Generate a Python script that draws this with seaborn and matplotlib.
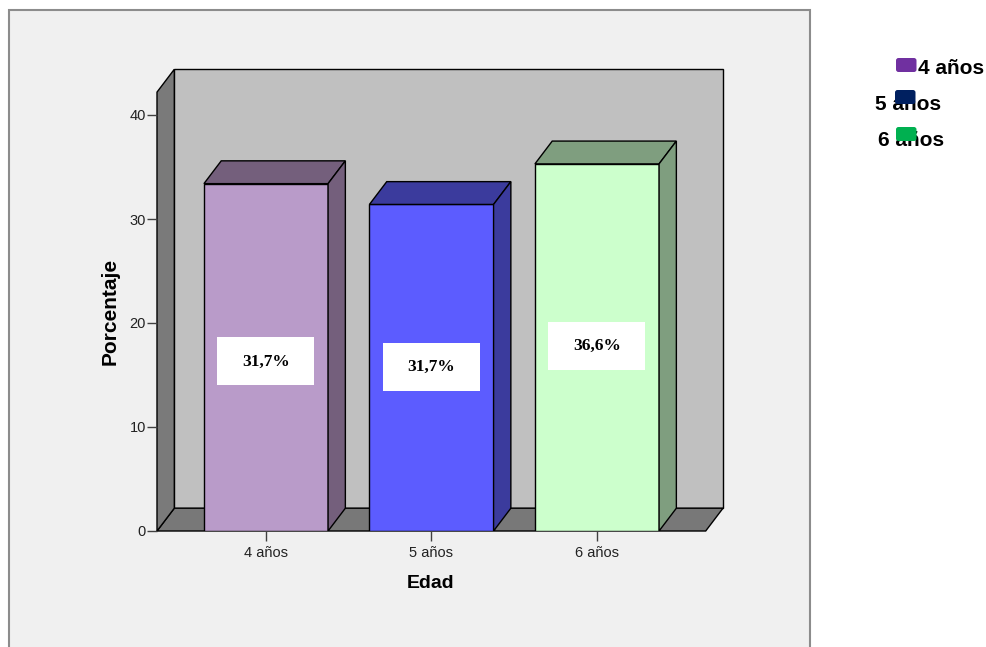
import matplotlib
matplotlib.use('Agg')
import matplotlib.pyplot as plt
from matplotlib.patches import Polygon, Rectangle, FancyBboxPatch
from matplotlib.transforms import IdentityTransform
import seaborn as sns

# ---------------- data ----------------
categorias = ['4 años', '5 años', '6 años']
porcentaje = [33.4, 31.4, 35.3]
etiquetas = ['31,7%', '31,7%', '36,6%']
yticks = [0, 10, 20, 30, 40]

# ---------------- style ----------------
colores_frente = ['#b99bc9', '#5c5cff', '#ccffcc']
colores_lado = ['#745f7c', '#3b3b9d', '#7f9e7f']
colores_leyenda = ['#7030a0', '#002060', '#00b050']
etiqueta_y = [16.3, 15.8, 17.8]   # label box centres (layout)

W, H = 987, 647
fig = plt.figure(figsize=(W / 100, H / 100), dpi=100, facecolor='white')

# outer grey frame
fig.patches.append(Rectangle((9 / W, -0.02), (810 - 9) / W, 1.02 - 10 / H,
                             transform=fig.transFigure, facecolor='#f0f0f0',
                             edgecolor='#8c8c8c', linewidth=1.5, zorder=-10))

# axes geometry (pixels)
PX_CAT = 165.5          # px per category
PX_VAL = 10.4           # px per percentage unit
X_ZERO_PX = 266
left_px, right_px, top_px, bot_px = 157, 723, 69.3, 531
ax = fig.add_axes([left_px / W, (H - bot_px) / H,
                   (right_px - left_px) / W, (bot_px - top_px) / H])
ax.patch.set_visible(False)
ax.set_zorder(1)

X0 = -(X_ZERO_PX - left_px) / PX_CAT
X1 = (right_px - X_ZERO_PX) / PX_CAT
DX = 17.3 / PX_CAT
DY = 22.8 / PX_VAL
WALL_TOP = 42.2
XF = X1 - DX
BAR_W = 0.75

# walls
ax.add_patch(Rectangle((X0 + DX, DY), XF - X0, WALL_TOP, facecolor='#c0c0c0',
                       edgecolor='black', linewidth=1, zorder=0.5, clip_on=False))
ax.add_patch(Polygon([(X0, 0), (XF, 0), (XF + DX, DY), (X0 + DX, DY)],
                     closed=True, facecolor='#787878', edgecolor='black',
                     linewidth=1, zorder=0.6, clip_on=False))
ax.add_patch(Polygon([(X0, 0), (X0, WALL_TOP), (X0 + DX, WALL_TOP + DY), (X0 + DX, DY)],
                     closed=True, facecolor='#7a7a7a', edgecolor='black',
                     linewidth=1, zorder=0.6, clip_on=False))

# front faces
sns.barplot(x=categorias, y=porcentaje, hue=categorias, palette=colores_frente,
            saturation=1, width=BAR_W, edgecolor='black', linewidth=1,
            legend=False, ax=ax)
for cont in ax.containers:
    for p in cont:
        p.set_zorder(3)

# 3D tops and sides
for i, (h, cl) in enumerate(zip(porcentaje, colores_lado)):
    l, r = i - BAR_W / 2, i + BAR_W / 2
    ax.add_patch(Polygon([(l, h), (r, h), (r + DX, h + DY), (l + DX, h + DY)],
                         closed=True, facecolor=cl, edgecolor='black',
                         linewidth=1, zorder=3))
    ax.add_patch(Polygon([(r, 0), (r + DX, DY), (r + DX, h + DY), (r, h)],
                         closed=True, facecolor=cl, edgecolor='black',
                         linewidth=1, zorder=3))

# value label boxes
BOX_W = 97 / PX_CAT
BOX_H = 48 / PX_VAL
for i, (t, yc) in enumerate(zip(etiquetas, etiqueta_y)):
    ax.add_patch(Rectangle((i - BOX_W / 2, yc - BOX_H / 2), BOX_W, BOX_H,
                           facecolor='white', edgecolor='none', zorder=5))
    ax.text(i, yc, t, ha='center', va='center', fontsize=12.5, fontweight='bold',
            family='Liberation Serif', color='black', zorder=6)

ax.set_xlim(X0, X1)
ax.set_ylim(0, (bot_px - top_px) / PX_VAL)
ax.set_yticks(yticks)
ax.set_xticks(range(len(categorias)))
ax.set_xticklabels(categorias)
for s in ax.spines.values():
    s.set_visible(False)
ax.tick_params(axis='y', length=7, width=1, color='#404040', pad=1,
               labelsize=10.5, labelcolor='#222222')
ax.tick_params(axis='x', length=7, width=1, color='#404040', pad=4,
               labelsize=10.5, labelcolor='#222222')
for lab in ax.get_xticklabels() + ax.get_yticklabels():
    lab.set_family('Liberation Sans')

ax.set_xlabel('Edad', fontsize=14, fontweight='bold', family='Liberation Sans',
              va='center')
ax.xaxis.set_label_coords((431 - left_px) / (right_px - left_px),
                          -(583 - bot_px) / (bot_px - top_px))
ax.set_ylabel('Porcentaje', fontsize=15, fontweight='bold', family='Liberation Sans',
              va='center')
ax.yaxis.set_label_coords((110 - left_px) / (right_px - left_px),
                          (bot_px - 311) / (bot_px - top_px))

# legend (SPSS style, handles drawn over text)
leg_patch = [(896, 58), (895, 90), (896, 127)]
leg_text = [(918, 68, 'left'), (875, 104, 'left'), (878, 141, 'left')]
for cat, col, (px, py), (tx, ty, ha) in zip(categorias, colores_leyenda, leg_patch, leg_text):
    fig.text(tx / W, 1 - ty / H, cat, ha=ha, va='center', fontsize=15,
             fontweight='bold', family='Liberation Sans', color='black', zorder=2)
    fig.patches.append(FancyBboxPatch((px, H - py - 14), 20.5, 14,
                                      boxstyle='round,pad=0,rounding_size=2.5',
                                      transform=IdentityTransform(),
                                      facecolor=col, edgecolor='none', zorder=3))

fig.savefig('out.png', dpi=100, facecolor='white')
